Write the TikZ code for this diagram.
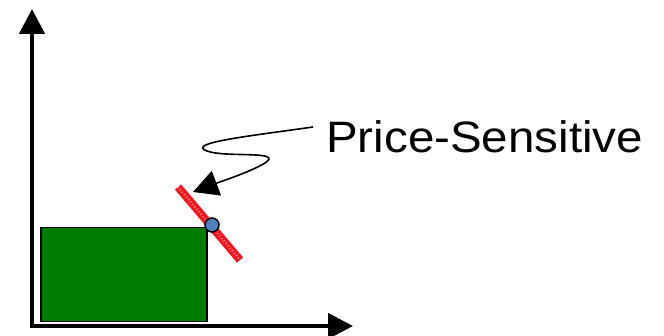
\documentclass[tikz,border=0pt]{standalone}
\usepackage{fontspec}
\setmainfont{Liberation Sans}
\usetikzlibrary{arrows.meta}
\definecolor{barfill}{RGB}{0,125,0}
\definecolor{dotblue}{RGB}{79,129,189}
\definecolor{linered}{RGB}{250,20,30}
\tikzset{
  axis/.style={line width=4.5pt, -{Triangle[length=25pt,width=25pt]}},
  bar/.style={fill=barfill, draw=black, line width=1.5pt},
  demand/.style={line width=8pt, linered},
  texture/.style={line width=2pt, white, opacity=0.55, dash pattern=on 1pt off 2.2pt},
  marker/.style={circle, fill=dotblue, draw=black, line width=1.5pt, minimum size=14pt, inner sep=0pt},
  pointer/.style={line width=1.6pt, -{Triangle[length=25pt,width=26pt]}},
  caption/.style={font=\fontsize{44}{48}\selectfont, inner sep=0pt, anchor=base west}
}
\begin{document}
\begin{tikzpicture}[x=1pt,y=-1pt]
  \useasboundingbox (0,0) rectangle (664,336);
  % axes
  \coordinate (origin) at (32,326);
  \coordinate (ytop) at (32,9);
  \coordinate (xend) at (353,326);
  \draw[axis] (32,328) -- (ytop);
  \draw[axis] (30,326) -- (xend);
  % quantity bar
  \node[bar, minimum width=166pt, minimum height=94pt, inner sep=0pt, anchor=north west] (box) at (40,227) {};
  % price line through the corner
  \coordinate (lineA) at (178,187);
  \coordinate (lineB) at (240,260);
  \draw[demand] (lineA) -- (lineB);
  \draw[texture] (lineA) -- (lineB);
  \node[marker] (pt) at (212,225) {};
  % label and pointer
  \node[caption] (label) at (326,153) {\scalebox{1.08}[1]{Price-Sensitive}};
  \coordinate (tip) at (193,192);
  \draw[pointer] (313,127) .. controls (250,136) and (185,143) .. (207,151)
     .. controls (225,158) and (285,150) .. (265,163)
     .. controls (250,172) and (225,180) .. (tip);
\end{tikzpicture}
\end{document}
